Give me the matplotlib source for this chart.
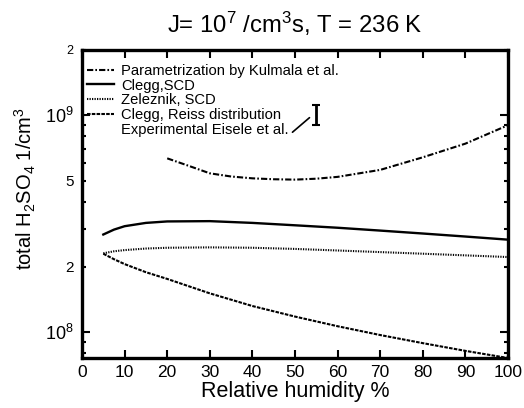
import matplotlib
matplotlib.use("Agg")
import matplotlib.pyplot as plt
import numpy as np

plt.rcParams['font.family'] = ['Liberation Sans', 'DejaVu Sans']
plt.rcParams['mathtext.default'] = 'regular'

# Relative humidity (%) and total H2SO4 (1/cm^3)
rh_kulmala = [20, 25, 30, 35, 40, 45, 50, 55, 60, 70, 80, 90, 100]
kulmala = [6.33e8, 5.85e8, 5.4e8, 5.22e8, 5.12e8, 5.07e8, 5.05e8, 5.1e8, 5.2e8,
           5.6e8, 6.4e8, 7.4e8, 9.0e8]

rh_scd = [5, 7.5, 10, 15, 20, 30, 40, 50, 60, 70, 80, 90, 100]
clegg_scd = [2.82e8, 2.97e8, 3.08e8, 3.19e8, 3.24e8, 3.25e8, 3.19e8, 3.11e8,
             3.03e8, 2.94e8, 2.85e8, 2.76e8, 2.67e8]
zeleznik_scd = [2.31e8, 2.36e8, 2.39e8, 2.43e8, 2.45e8, 2.46e8, 2.45e8, 2.42e8,
                2.38e8, 2.34e8, 2.30e8, 2.26e8, 2.22e8]

rh_reiss = [5, 7.5, 10, 15, 20, 25, 30, 40, 50, 60, 70, 80, 90, 100]
clegg_reiss = [2.30e8, 2.17e8, 2.06e8, 1.89e8, 1.76e8, 1.63e8, 1.51e8, 1.32e8,
               1.18e8, 1.065e8, 9.7e7, 8.9e7, 8.2e7, 7.6e7]

# experimental point (Eisele et al.)
exp_rh = [55]
exp_val = [1.0e9]
exp_err_lo = [0.1e9]
exp_err_hi = [0.11e9]

fig = plt.figure(figsize=(5.24, 4.08), dpi=100)
ax = fig.add_axes([0.1565, 0.1225, 0.813, 0.755])

ax.plot(rh_kulmala, kulmala, color='black', lw=1.5, linestyle=(0, (3, 1, 0.8, 1)),
        label='Parametrization by Kulmala et al.')
ax.plot(rh_scd, clegg_scd, color='black', lw=1.7, label='Clegg,SCD')
ax.plot(rh_scd, zeleznik_scd, color='black', lw=1.5, linestyle=(0, (0.6, 0.6)),
        label='Zeleznik, SCD')
ax.plot(rh_reiss, clegg_reiss, color='black', lw=1.5, linestyle=(0, (1.7, 0.6)),
        label='Clegg, Reiss distribution')
ax.errorbar(exp_rh, exp_val, yerr=[exp_err_lo, exp_err_hi], fmt='none',
            ecolor='black', elinewidth=2, capsize=3, capthick=1.5,
            label='Experimental Eisele et al.')
ax.annotate('', xy=(exp_rh[0] - 1.6, exp_val[0] * 0.975), xytext=(0.494, 0.733),
            textcoords='axes fraction',
            arrowprops=dict(arrowstyle='-', color='black', lw=1.2,
                            shrinkA=0, shrinkB=0))

ax.set_yscale('log')
ax.set_xlim(0, 100)
ax.set_ylim(7.6e7, 2e9)

ax.set_xticks(np.arange(0, 101, 10))
ax.set_yticks([1e8, 1e9], [r'10$^8$', r'10$^9$'])
minor = [k * 10.0**e for e in (7, 8, 9) for k in range(2, 10)]
minor = [m for m in minor if 7.6e7 <= m <= 2e9]
minor_labels = ['2' if str(int(m))[0] == '2' else '5' if str(int(m))[0] == '5' else ''
                for m in minor]
ax.set_yticks(minor, minor_labels, minor=True)

ax.tick_params(which='both', direction='in', top=True, right=True, labelsize=12.5,
               width=1.5)
ax.tick_params(which='major', length=6, pad=5)
ax.tick_params(axis='y', which='both', pad=6)
ax.tick_params(axis='y', which='major', labelsize=13)
ax.tick_params(which='minor', length=3, labelsize=11)
for lbl in ax.get_yticklabels(minor=True):
    if lbl.get_position()[1] >= 1.9e9:
        lbl.set_fontsize(9)
for s in ax.spines.values():
    s.set_linewidth(2.4)

handles, labels = ax.get_legend_handles_labels()
handles[-1] = plt.Line2D([], [], linestyle='none')
ax.legend(handles, labels, loc='upper left', bbox_to_anchor=(0.012, 0.955),
          frameon=False, fontsize=10.6, handlelength=1.85, handletextpad=0.47,
          labelspacing=0.05, borderaxespad=0, borderpad=0)

ax.set_title(r'J= 10$^7$ /cm$^3$s, T = 236 K', fontsize=17.2, pad=12)
ax.set_xlabel('Relative humidity %', fontsize=15.5, labelpad=1)
ax.set_ylabel(r'total H$_2$SO$_4$ 1/cm$^3$', fontsize=14.5)
ax.yaxis.set_label_coords(-0.103, 0.55)

fig.savefig('out.png', dpi=100)
